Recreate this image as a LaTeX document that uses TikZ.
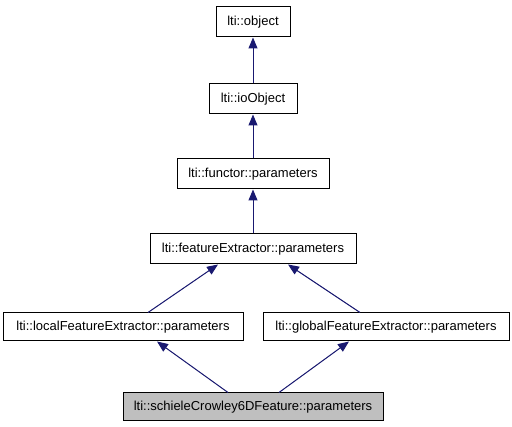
\documentclass[tikz,border=0pt]{standalone}
\usepackage{fontspec}
\setmainfont{Liberation Sans}
\usetikzlibrary{arrows.meta}
\definecolor{edgeblue}{HTML}{191970}
\definecolor{hlgray}{HTML}{BFBFBF}
\begin{document}
\begin{tikzpicture}[x=1pt,y=-1pt,
  cls/.style={draw=black,line width=1pt,fill=white,inner sep=0pt,minimum height=30pt,
    font=\fontsize{13}{15}\selectfont,text height=9.5pt,text depth=2.5pt},
  inh/.style={draw=edgeblue,line width=1pt,-{Triangle[length=11pt,width=9pt]},fill=edgeblue}]
\useasboundingbox (0,0) rectangle (512,427);
\node[cls,minimum width=74pt] (obj) at (253,22) {lti::object};
\node[cls,minimum width=88pt] (io) at (253,99) {lti::ioObject};
\node[cls,minimum width=152pt] (fun) at (253,174) {lti::functor::parameters};
\node[cls,minimum width=206pt] (fe) at (253,249) {lti::featureExtractor::parameters};
\node[cls,minimum width=240pt,minimum height=28pt] (loc) at (123,327) {lti::localFeatureExtractor::parameters};
\node[cls,minimum width=246pt,minimum height=28pt] (glo) at (386,327) {lti::globalFeatureExtractor::parameters};
\node[cls,fill=hlgray,minimum width=260pt,minimum height=28pt] (sch) at (253,407) {lti::schieleCrowley6DFeature::parameters};
\draw[inh] (io.north) -- (obj.south);
\draw[inh] (fun.north) -- (io.south);
\draw[inh] (fe.north) -- (fun.south);
\draw[inh] ([xshift=25pt]loc.north) -- ([xshift=-35pt]fe.south);
\draw[inh] ([xshift=-26pt]glo.north) -- ([xshift=35pt]fe.south);
\draw[inh] ([xshift=-25pt]sch.north) -- ([xshift=34pt]loc.south);
\draw[inh] ([xshift=26pt]sch.north) -- ([xshift=-37pt]glo.south);
\end{tikzpicture}
\end{document}
